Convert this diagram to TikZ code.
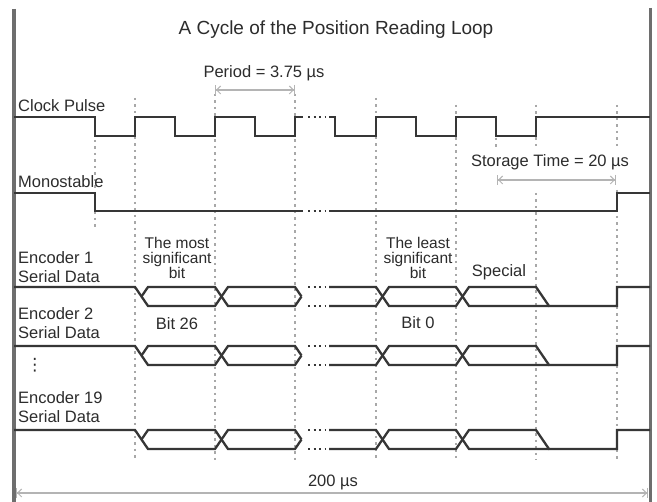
\documentclass[tikz,border=0pt]{standalone}
\usepackage{fontspec}
\setmainfont{Liberation Sans}
\newfontfamily\symfont{DejaVu Sans}
\usetikzlibrary{arrows.meta}
\definecolor{sig}{HTML}{363636}
\definecolor{gridc}{HTML}{A8A8A8}
\definecolor{txt}{HTML}{2C2C2C}
\definecolor{framec}{HTML}{6E6E6E}
\definecolor{dimc}{HTML}{B4B4B4}
\newcommand\encrow[2]{%
  \draw[sigline] (14,#1) -- (135,#1) -- (148,#2) -- (215,#2) -- (228,#1) -- (295,#1) -- (301.5,{(#1+#2)/2});
  \draw[sigline] (141.5,{(#1+#2)/2}) -- (148,#1) -- (215,#1) -- (228,#2) -- (295,#2) -- (301.5,{(#1+#2)/2});
  \draw[gapdots] (308,#1) -- (325,#1);
  \draw[gapdots] (308,#2) -- (325,#2);
  \draw[sigline] (329,#1) -- (376,#1) -- (389,#2) -- (456,#2) -- (469,#1) -- (536,#1) -- (549,#2) -- (617,#2) -- (617,#1) -- (650,#1);
  \draw[sigline] (329,#2) -- (376,#2) -- (389,#1) -- (456,#1) -- (469,#2) -- (549,#2);
}
\begin{document}
\begin{tikzpicture}[x=1pt,y=-1pt,
  sigline/.style={draw=sig, line width=2.3pt},
  gridline/.style={draw=gridc, line width=1.1pt, dash pattern=on 2.5pt off 4pt},
  gapdots/.style={draw=sig, line width=1.8pt, dash pattern=on 2pt off 3.5pt},
  lbl/.style={text=txt, font=\fontsize{16.5}{19.5}\selectfont, inner sep=0pt},
  smalllbl/.style={text=txt, font=\fontsize{15.5}{15}\selectfont, inner sep=0pt, align=center},
  dimarrow/.style={draw=dimc, line width=1.2pt,
    {Bar[width=10pt,line width=1pt]Straight Barb[length=4pt,width=8pt,line width=1pt]}-{Straight Barb[length=4pt,width=8pt,line width=1pt]Bar[width=10pt,line width=1pt]}}
]
\useasboundingbox (0,0) rectangle (657,502);
\fill[white] (0,0) rectangle (657,502);

% grid lines
\draw[gridline] (95,140) -- (95,228);
\draw[gridline] (135,98) -- (135,460);
\draw[gridline] (215,94) -- (215,460);
\draw[gridline] (295,94) -- (295,460);
\draw[gridline] (376,98) -- (376,460);
\draw[gridline] (456,105) -- (456,460);
\draw[gridline] (496,138) -- (496,148);
\draw[gridline] (536,105) -- (536,148);
\draw[gridline] (536,193) -- (536,460);
\draw[gridline] (617,105) -- (617,148);
\draw[gridline] (617,190) -- (617,460);

% frame
\draw[framec, line width=4pt] (14,9) -- (14,502);
\draw[framec, line width=3pt] (650,8) -- (650,502);

% title
\node[lbl, font=\fontsize{19}{22}\selectfont, anchor=base] (title) at (336,35) {A Cycle of the Position Reading Loop};

% dimension annotations
\node[lbl, anchor=base] (period) at (264,78) {Period = 3.75 µs};
\coordinate (pA) at (215,90);
\coordinate (pB) at (295,90);
\draw[dimarrow] (pA) -- (pB);
\node[lbl, anchor=base] (storage) at (550,167) {Storage Time = 20 µs};
\coordinate (sA) at (497,180);
\coordinate (sB) at (616,180);
\draw[dimarrow] (sA) -- (sB);
\node[lbl, anchor=base] (total) at (333,487) {200 µs};
\coordinate (tA) at (16,493);
\coordinate (tB) at (648,493);
\draw[dimarrow] (tA) -- (tB);

% signal names
\node[lbl, anchor=base west] (clk) at (18,112) {Clock Pulse};
\node[lbl, anchor=base west] (mono) at (18,188) {Monostable};
\node[lbl, anchor=north west, align=left] (enc1) at (18,251) {Encoder 1\\Serial Data};
\node[lbl, anchor=north west, align=left] (enc2) at (18,307) {Encoder 2\\Serial Data};
\node[lbl, anchor=center, font=\symfont\fontsize{17}{17}\selectfont] (vd) at (35,365) {⋮};
\node[lbl, anchor=north west, align=left] (enc19) at (18,391) {Encoder 19\\Serial Data};

% bit labels
\node[smalllbl, anchor=north] (msb) at (177,237) {The most\\significant\\bit};
\node[smalllbl, anchor=north] (lsb) at (418,237) {The least\\significant\\bit};
\node[lbl, anchor=base] (b26) at (177,330) {Bit 26};
\node[lbl, anchor=base] (b0) at (418,329) {Bit 0};
\node[lbl, anchor=base] (spec) at (499,277) {Special};

% clock
\draw[sigline] (14,117) -- (95,117) -- (95,136) -- (135,136) -- (135,117) -- (175,117) -- (175,136) -- (215,136) -- (215,117) -- (255,117) -- (255,136) -- (295,136) -- (295,117) -- (303,117);
\draw[gapdots] (308,117) -- (325,117);
\draw[sigline] (329,117) -- (335,117) -- (335,136) -- (376,136) -- (376,117) -- (416,117) -- (416,136) -- (456,136) -- (456,117) -- (496,117) -- (496,136) -- (536,136) -- (536,117) -- (650,117);

% monostable
\draw[sigline] (14,193) -- (95,193) -- (95,211) -- (303,211);
\draw[gapdots] (308,211) -- (325,211);
\draw[sigline] (329,211) -- (617,211) -- (617,193) -- (650,193);

% encoders
\encrow{287}{306}
\encrow{346}{365}
\encrow{430}{449}
\end{tikzpicture}
\end{document}
